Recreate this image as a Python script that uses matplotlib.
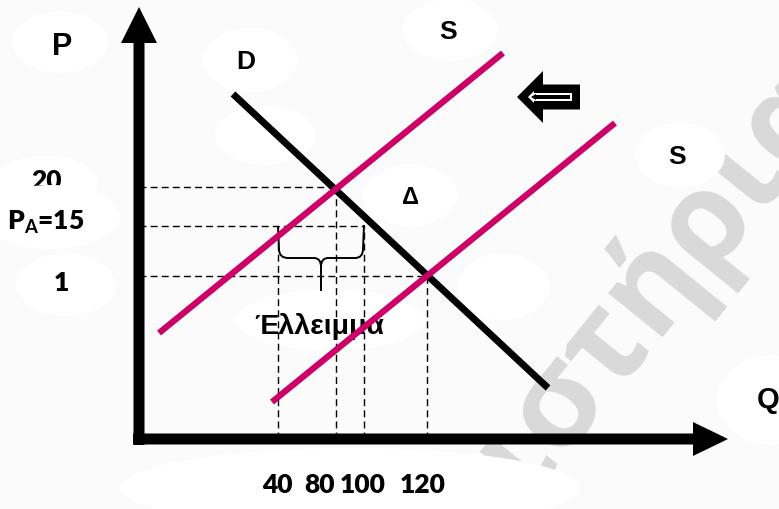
import matplotlib.pyplot as plt
from matplotlib.patches import Ellipse, Polygon, FancyArrow, PathPatch
from matplotlib.path import Path

plt.rcParams['mathtext.fontset'] = 'custom'
plt.rcParams['mathtext.rm'] = 'Lato:bold'

# diagram units = pixels measured from the corner of the two axes
q_labels = ['40', '80', '100', '120']
q_pos = [139, 197, 225, 288]
q_label_x = [138, 181, 224, 284]

p_labels = ['20', r'P$_\mathrm{A}$=15', '1']
p_pos = [252, 213, 163]
p_label_xy = [(-92, 258), (-93, 217), (-78, 156)]

# (q index, p index) of the points marked with dashed guides
guides = [(1, 0), (2, 1), (0, 1), (3, 2)]

demand_q = [94, 409]
demand_p = [345, 51]
supply1_q = [20, 364]
supply1_p = [106, 386]
supply2_q = [133, 476]
supply2_p = [37, 316]

pink = '#CC0066'
bg = '#fbfbfb'
wm = '#d9d9d9'

fig = plt.figure(figsize=(7.79, 5.09), dpi=100, facecolor=bg)
ax = fig.add_axes([0, 0, 1, 1])
ax.set_xlim(-139, 640)
ax.set_ylim(-70, 439)
ax.axis('off')
ax.set_facecolor(bg)

# watermark
ax.text(544, 138, 'ιστήρια', rotation=51, rotation_mode='anchor',
        fontsize=92, color=wm, family='Open Sans', fontweight='bold',
        ha='center', va='baseline', zorder=1)

# white blobs behind the labels
blobs = [(-79, 397, 95, 62), (111, 379, 95, 65), (311, 409, 95, 62),
         (541, 284, 90, 65), (271, 244, 95, 62), (364, 152, 93, 67),
         (126, 304, 100, 60), (191, 119, 190, 62), (631, 39, 105, 90),
         (211, -49, 460, 80)]
for x, y, w, h in blobs:
    ax.add_patch(Ellipse((x, y), w, h, facecolor='white', edgecolor='none',
                         zorder=2))

# axes with arrows
ax.add_patch(FancyArrow(0, -6, 0, 438, width=11, head_width=36,
                        head_length=36, length_includes_head=True,
                        color='black', lw=0, zorder=4))
ax.add_patch(FancyArrow(-6, 0, 595, 0, width=11, head_width=34,
                        head_length=35, length_includes_head=True,
                        color='black', lw=0, zorder=4))

# dashed guides
dash = dict(color='black', lw=1.0, ls=(0, (5, 3)), zorder=3)
for pi, p in enumerate(p_pos):
    qmax = max(q_pos[qi] for qi, pj in guides if pj == pi)
    ax.plot([0, qmax], [p, p], **dash)
for qi, pi in guides:
    ax.plot([q_pos[qi], q_pos[qi]], [0, p_pos[pi]], **dash)

# curves
ax.plot(demand_q, demand_p, color='black', lw=5, solid_capstyle='butt',
        zorder=5)
ax.plot(supply1_q, supply1_p, color=pink, lw=4.5, solid_capstyle='butt',
        zorder=6)
ax.plot(supply2_q, supply2_p, color=pink, lw=4.5, solid_capstyle='butt',
        zorder=6)

# brace under the shortage
x0, x1 = q_pos[0], q_pos[2]
xm = (x0 + x1) / 2
yt, yb, ytip = p_pos[1], 181, 148
left = Path([(x0, yt), (x0 + 1, yb + 9), (x0 + 1, yb), (x0 + 10, yb),
             (xm - 7, yb), (xm, yb), (xm, yb - 9), (xm, ytip)],
            [Path.MOVETO, Path.LINETO, Path.CURVE3, Path.CURVE3,
             Path.LINETO, Path.CURVE3, Path.CURVE3, Path.LINETO])
right = Path([(xm, yb - 9), (xm, yb), (xm + 7, yb), (x1 - 9, yb),
              (x1 - 1, yb), (x1 - 1, yb + 9), (x1, yt + 1)],
             [Path.MOVETO, Path.CURVE3, Path.CURVE3, Path.LINETO,
              Path.CURVE3, Path.CURVE3, Path.LINETO])
for pth in (left, right):
    ax.add_patch(PathPatch(pth, facecolor='none', edgecolor='black', lw=1.4,
                           zorder=4))


# shift arrow
def arrow_pts(tip, base, tail, yc, hh, th):
    return [(tip, yc), (base, yc + hh), (base, yc + th), (tail, yc + th),
            (tail, yc - th), (base, yc - th), (base, yc - hh)]


ax.add_patch(Polygon(arrow_pts(378, 404, 441, 342, 26, 12.5),
                     facecolor='black', edgecolor='none', zorder=5))
ax.add_patch(Polygon(arrow_pts(389, 395, 433, 342, 6, 4),
                     facecolor='white', edgecolor='none', zorder=6))
ax.add_patch(Polygon(arrow_pts(392, 397, 431, 342, 3, 2),
                     facecolor='black', edgecolor='none', zorder=7))

# labels
lab = dict(family='Liberation Sans', fontweight='bold', ha='center',
           va='center', zorder=8)
ax.text(-77, 392, 'P', fontsize=22, **lab)
ax.text(107, 377, 'D', fontsize=19, **lab)
ax.text(309, 407, 'S', fontsize=19, **lab)
ax.text(538, 282, 'S', fontsize=19, **lab)
ax.text(272, 242, 'Δ', fontsize=17, **lab)
ax.text(629, 39, 'Q', fontsize=21, **lab)
ax.text(180, 112, 'Έλλειμμα', fontsize=20.5, **dict(lab, zorder=5.5))

num = dict(family='Lato', fontweight='heavy', ha='center', va='center')
for x, t in zip(q_label_x, q_labels):
    ax.text(x, -46, t, fontsize=19, zorder=8, **num)

label_blobs = [(-94, 256, 105, 55), (-89, 222, 140, 64), (-73, 154, 100, 62)]
for i, (t, (x, y), (ex, ey, w, h)) in enumerate(zip(p_labels, p_label_xy,
                                                      label_blobs)):
    ax.add_patch(Ellipse((ex, ey), w, h, facecolor='white', edgecolor='none',
                         zorder=10 + 2 * i))
    ax.text(x, y, t, fontsize=19, zorder=11 + 2 * i, **num)

fig.savefig('out.png', dpi=100, facecolor=bg)
